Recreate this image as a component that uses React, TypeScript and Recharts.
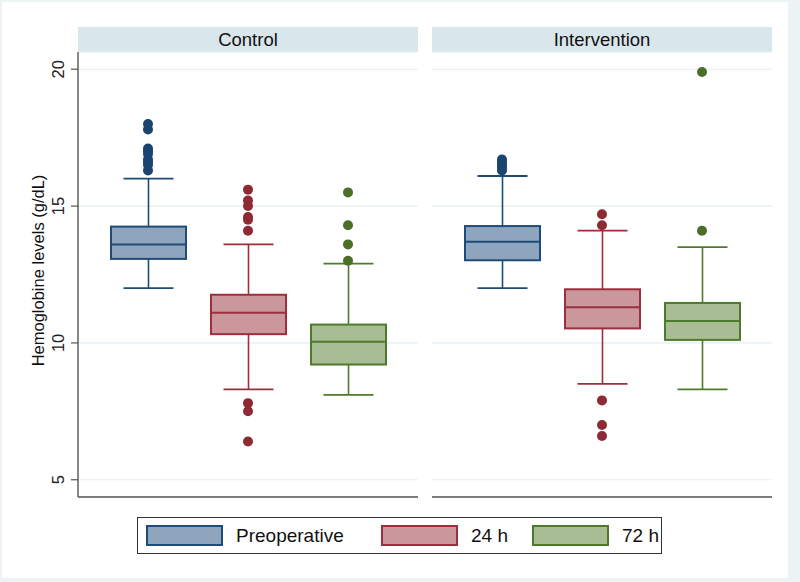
import React from "react";
import {
  ComposedChart,
  Bar,
  Scatter,
  XAxis,
  YAxis,
  CartesianGrid,
} from "recharts";

// categories (time points)
const categories = ["Preoperative", "24 h", "72 h"];

// Control group box statistics
const controlMin = [12.0, 8.3, 8.1];
const controlQ1 = [13.07, 10.32, 9.21];
const controlMedian = [13.6, 11.1, 10.04];
const controlQ3 = [14.25, 11.76, 10.67];
const controlMax = [16.0, 13.6, 12.9];
const controlOutliers = [
  [18.0, 17.8, 17.1, 17.0, 16.9, 16.7, 16.6, 16.5, 16.3],
  [15.6, 15.2, 15.0, 14.6, 14.5, 14.1, 7.8, 7.5, 6.4],
  [15.5, 14.3, 13.6, 13.0],
];

// Intervention group box statistics
const interventionMin = [12.0, 8.5, 8.3];
const interventionQ1 = [13.02, 10.53, 10.11];
const interventionMedian = [13.7, 11.3, 10.8];
const interventionQ3 = [14.27, 11.96, 11.46];
const interventionMax = [16.1, 14.1, 13.5];
const interventionOutliers = [
  [16.7, 16.6, 16.5, 16.4, 16.3],
  [14.7, 14.3, 7.9, 7.0, 6.6],
  [19.9, 14.1],
];

const yTicks = [5, 10, 15, 20];

const fills = ["#8fa5bd", "#c9979c", "#a9bd94"];
const strokes = ["#1f4b78", "#9c2f3b", "#4e7a2c"];
const dotColors = ["#1b4470", "#8e2a34", "#4a7028"];

const FONT = '"Liberation Sans", Arial, Helvetica, sans-serif';

function buildBoxes(
  min: number[],
  q1: number[],
  median: number[],
  q3: number[],
  max: number[]
) {
  return categories.map((name, i) => ({
    name,
    min: min[i],
    q1: q1[i],
    median: median[i],
    q3: q3[i],
    max: max[i],
  }));
}

function buildOutliers(outliers: number[][], i: number) {
  return outliers[i].map((value) => ({ name: categories[i], value }));
}

const BoxShape = (props: any) => {
  const { x, y, width, height, payload, index } = props;
  const top = Math.min(y, y + height);
  const span = Math.abs(height);
  const px = (v: number) =>
    top + ((payload.max - v) / (payload.max - payload.min)) * span;
  const cx = x + width / 2;
  const capHalf = width / 3;
  const stroke = strokes[index];
  return (
    <g>
      <line x1={cx} x2={cx} y1={px(payload.max)} y2={px(payload.q3)} stroke={stroke} strokeWidth={1.6} />
      <line x1={cx} x2={cx} y1={px(payload.q1)} y2={px(payload.min)} stroke={stroke} strokeWidth={1.6} />
      <line x1={cx - capHalf} x2={cx + capHalf} y1={px(payload.max)} y2={px(payload.max)} stroke={stroke} strokeWidth={1.8} />
      <line x1={cx - capHalf} x2={cx + capHalf} y1={px(payload.min)} y2={px(payload.min)} stroke={stroke} strokeWidth={1.8} />
      <rect
        x={x}
        y={px(payload.q3)}
        width={width}
        height={px(payload.q1) - px(payload.q3)}
        fill={fills[index]}
        stroke={stroke}
        strokeWidth={2}
      />
      <line x1={x} x2={x + width} y1={px(payload.median)} y2={px(payload.median)} stroke={stroke} strokeWidth={2} />
    </g>
  );
};

const dotShape = (color: string) => (p: any) =>
  <circle cx={p.cx} cy={p.cy} r={5} fill={color} />;

const YTick = (props: any) => {
  const { x, y, payload } = props;
  return (
    <text
      x={x - 5}
      y={y}
      transform={`rotate(-90 ${x - 5} ${y})`}
      textAnchor="middle"
      fontSize={16.5}
      fontFamily={FONT}
      fill="#222"
    >
      {payload.value}
    </text>
  );
};

const YLabel = (props: any) => {
  const { viewBox } = props;
  const cy = viewBox.y + viewBox.height / 2 - 4;
  const lx = 44;
  return (
    <text
      x={lx}
      y={cy}
      transform={`rotate(-90 ${lx} ${cy})`}
      textAnchor="middle"
      fontSize={16.5}
      fontFamily={FONT}
      fill="#111"
    >
      Hemoglobine levels (g/dL)
    </text>
  );
};

function Panel({
  boxes,
  outliers,
  showAxis,
  width,
  margin,
}: {
  boxes: any[];
  outliers: number[][];
  showAxis: boolean;
  width: number;
  margin: any;
}) {
  return (
    <ComposedChart width={width} height={500} data={boxes} margin={margin}>
      <CartesianGrid horizontal vertical={false} stroke="#e4edf1" strokeWidth={1.2} />
      <XAxis
        dataKey="name"
        type="category"
        allowDuplicatedCategory={false}
        padding={{ left: 20, right: 20 }}
        tick={false}
        tickLine={false}
        height={1}
        axisLine={{ stroke: "#555", strokeWidth: 1.4 }}
      />
      {showAxis ? (
        <YAxis
          type="number"
          domain={[4.37, 20.63]}
          ticks={yTicks}
          width={40}
          tickSize={7}
          tickLine={{ stroke: "#555", strokeWidth: 1.2 }}
          axisLine={{ stroke: "#555", strokeWidth: 1.4 }}
          tick={<YTick />}
          label={<YLabel />}
          allowDataOverflow
        />
      ) : (
        <YAxis type="number" domain={[4.37, 20.63]} ticks={yTicks} hide allowDataOverflow />
      )}
      <Bar
        dataKey={(d: any) => [d.min, d.max]}
        barSize={75}
        shape={<BoxShape />}
        isAnimationActive={false}
      />
      {categories.map((c, i) => (
        <Scatter
          key={c}
          data={buildOutliers(outliers, i)}
          dataKey="value"
          shape={dotShape(dotColors[i])}
          isAnimationActive={false}
        />
      ))}
    </ComposedChart>
  );
}

const legendWidths = [235, 151, 130];

export default function App() {
  const controlBoxes = buildBoxes(controlMin, controlQ1, controlMedian, controlQ3, controlMax);
  const interventionBoxes = buildBoxes(
    interventionMin,
    interventionQ1,
    interventionMedian,
    interventionQ3,
    interventionMax
  );

  const stripStyle: React.CSSProperties = {
    position: "absolute",
    top: 27,
    height: 25,
    width: 340,
    background: "#d9e6ec",
    color: "#111",
    fontFamily: FONT,
    fontSize: 18.5,
    lineHeight: "25px",
    textAlign: "center",
  };

  return (
    <div
      style={{
        position: "absolute",
        left: 0,
        top: 0,
        width: 800,
        height: 582,
        background: "#edf3f5",
        overflow: "hidden",
      }}
    >
      <div
        style={{
          position: "absolute",
          left: 2,
          top: 2,
          width: 786,
          height: 576,
          background: "#ffffff",
        }}
      />
      <div style={{ ...stripStyle, left: 78 }}>Control</div>
      <div style={{ ...stripStyle, left: 432 }}>Intervention</div>

      <div style={{ position: "absolute", left: 0, top: 0 }}>
        <Panel
          boxes={controlBoxes}
          outliers={controlOutliers}
          showAxis
          width={420}
          margin={{ top: 52, right: 2, bottom: 2, left: 38 }}
        />
      </div>
      <div style={{ position: "absolute", left: 420, top: 0 }}>
        <Panel
          boxes={interventionBoxes}
          outliers={interventionOutliers}
          showAxis={false}
          width={360}
          margin={{ top: 52, right: 8, bottom: 2, left: 12 }}
        />
      </div>

      <div
        style={{
          position: "absolute",
          left: 137,
          top: 517,
          width: 515,
          height: 35,
          border: "1.5px solid #333",
          background: "#fff",
          display: "flex",
          alignItems: "center",
          paddingLeft: 8,
          boxSizing: "content-box",
          whiteSpace: "nowrap",
        }}
      >
        {categories.map((c, i) => (
          <div
            key={c}
            style={{ display: "flex", alignItems: "center", width: legendWidths[i], flexShrink: 0 }}
          >
            <div
              style={{
                width: 73,
                height: 17,
                background: fills[i],
                border: `2px solid ${strokes[i]}`,
                marginRight: 13,
              }}
            />
            <span style={{ fontFamily: FONT, fontSize: 19, color: "#111" }}>{c}</span>
          </div>
        ))}
      </div>
    </div>
  );
}
